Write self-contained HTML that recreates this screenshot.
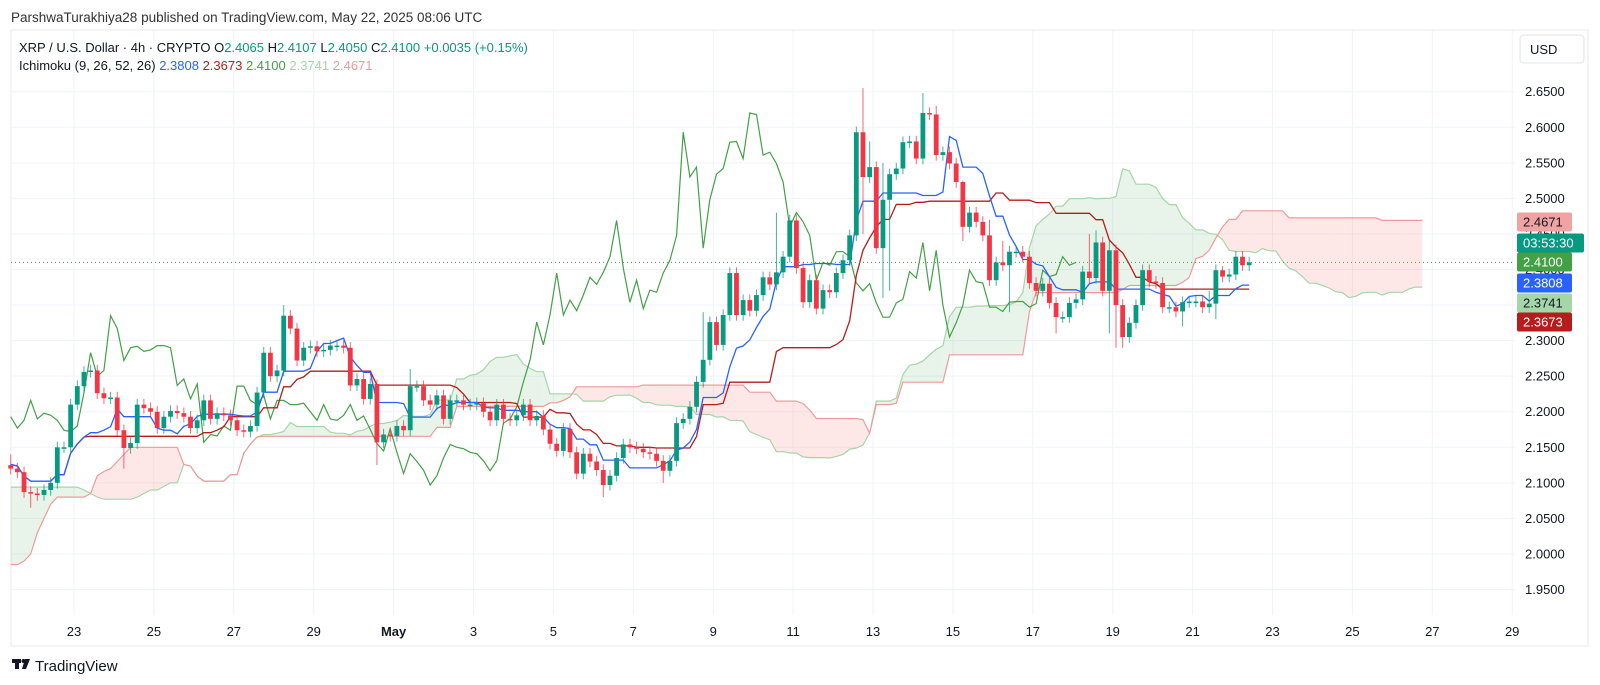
<!DOCTYPE html>
<html><head><meta charset="utf-8"><style>
html,body{margin:0;padding:0;background:#fff;width:1600px;height:685px;overflow:hidden;font-family:"Liberation Sans",sans-serif;}
svg text{font-family:"Liberation Sans",sans-serif;}
</style></head><body>
<svg id="chart" width="1600" height="685" xmlns="http://www.w3.org/2000/svg">
<text x="11" y="22" font-size="13.5" fill="#333">ParshwaTurakhiya28 published on TradingView.com, May 22, 2025 08:06 UTC</text>
<rect x="11" y="30" width="1577" height="616" fill="none" stroke="#e8e8e8"/>
<g id="grid"></g>
<g id="cloud"></g>
<g id="lines"></g>
<g id="candles"></g>
<g id="axis"></g>
<text x="19" y="52" font-size="13" fill="#131722">XRP / U.S. Dollar · 4h · CRYPTO <tspan fill="#131722">O</tspan><tspan fill="#089981">2.4065</tspan>  <tspan fill="#131722">H</tspan><tspan fill="#089981">2.4107</tspan>  <tspan fill="#131722">L</tspan><tspan fill="#089981">2.4050</tspan>  <tspan fill="#131722">C</tspan><tspan fill="#089981">2.4100</tspan>  <tspan fill="#089981">+0.0035 (+0.15%)</tspan></text>
<text x="19" y="70" font-size="13" fill="#131722">Ichimoku (9, 26, 52, 26)  <tspan fill="#2962FF">2.3808</tspan>  <tspan fill="#B71C1C">2.3673</tspan>  <tspan fill="#43A047">2.4100</tspan>  <tspan fill="#A5D6A7">2.3741</tspan>  <tspan fill="#EF9A9A">2.4671</tspan></text>
<rect x="1520" y="35" width="64" height="28" rx="4" fill="#fff" stroke="#e0e3eb"/>
<text x="1530" y="54" font-size="13" fill="#131722">USD</text>
<g>
<rect x="12" y="659" width="9" height="4" fill="#131722"/><rect x="15" y="659" width="4" height="10" fill="#131722"/>
<circle cx="23.5" cy="661" r="2" fill="#131722"/><polygon points="25,659 30,659 26,669 22,669" fill="#131722"/>
</g>
<text x="35" y="671" font-size="15" fill="#131722">TradingView</text>
</svg>
<script>
const closes=[2.12,
2.115,2.087,2.085,2.083,2.09,2.10,2.15,2.15,2.21,2.236,2.256,2.258,2.226,2.219,2.22,2.174,2.149,2.156,2.21,2.205,2.20,2.177,2.193,2.201,2.198,2.193,2.177,2.188,2.216,2.19,2.198,2.195,2.188,2.174,2.172,2.18,2.227,2.283,2.25,2.258,2.335,2.317,2.272,2.29,2.292,2.285,
2.287,2.293,2.293,2.29,2.237,2.246,2.218,2.239,2.157,2.168,2.166,2.18,2.174,2.236,2.236,2.216,2.21,2.223,2.19,2.216,2.216,2.21,2.21,2.212,2.20,2.188,2.21,2.19,2.188,2.195,2.21,2.188,2.194,2.175,2.155,2.145,2.176,2.143,2.113,2.141,2.13,2.118,2.097,2.11,2.135,2.154,
2.15,2.148,2.143,2.141,2.131,2.117,2.131,2.184,2.19,2.207,2.242,2.273,2.326,2.294,2.336,2.395,2.336,2.357,2.342,2.364,2.389,2.379,2.396,2.418,2.469,2.402,2.354,2.385,2.345,2.371,2.368,2.395,2.413,2.448,2.593,2.53,2.544,2.43,2.498,2.534,2.542,2.579,2.58,2.556,2.62,2.618,2.561,2.565,
2.549,2.523,2.46,2.48,2.467,2.448,2.385,2.41,2.406,2.425,2.425,2.418,2.381,2.37,2.38,2.353,2.333,2.333,2.353,2.358,2.397,2.388,2.438,2.37,2.427,2.35,2.305,2.325,2.35,2.399,2.383,2.381,2.347,2.347,2.341,2.354,2.355,2.355,2.347,2.352,2.399,2.39,2.393,2.418,2.406,
2.41];
const firstOpen=2.125;
const defaultWick=0.008;
const wickHighs={0:2.14,41:2.35,55:2.245,60:2.26,104:2.34,115:2.48,128:2.655,129:2.58,131:2.55,137:2.648,139:2.63,143:2.525,147:2.47,149:2.44,162:2.45,163:2.455,165:2.44,180:2.37,182:2.405};
const wickLows={3:2.065,17:2.12,55:2.125,89:2.08,98:2.10,128:2.45,131:2.36,132:2.37,143:2.44,150:2.34,157:2.31,165:2.31,166:2.29,167:2.29,176:2.32,181:2.33};
// cloud values projected from history before the first visible candle (plotted at candles 0..25)
const preSpanA=[2.094,2.094,2.094,2.094,2.094,2.094,2.094,2.094,2.094,2.094,2.094,2.09,2.085,2.08,2.077,2.077,2.077,2.077,2.077,2.08,2.085,2.09,2.09,2.095,2.10,2.10];
const preSpanB=[1.985,1.985,1.99,2.00,2.03,2.05,2.07,2.08,2.08,2.08,2.08,2.08,2.085,2.11,2.116,2.12,2.13,2.14,2.15,2.15,2.15,2.15,2.15,2.15,2.15,2.15];
const priceTicks=[2.65,2.60,2.55,2.50,2.45,2.40,2.35,2.30,2.25,2.20,2.15,2.10,2.05,2.00,1.95];
const dateTicks=[["23",0],["25",2],["27",4],["29",6],["May",8],["3",10],["5",12],["7",14],["9",16],["11",18],["13",20],["15",22],["17",24],["19",26],["21",28],["23",30],["25",32],["27",34],["29",36]];
const tagLabels=["2.4671","03:53:30","2.4100","2.3808","2.3741","2.3673"];
const tagY=[222,243,262,283,303,322];
const tagBg=["#F0A3A3","#089981","#43A047","#2962FF","#A5D6A7","#B71C1C"];
const tagFg=["#131722","#fff","#fff","#fff","#131722","#fff"];

const NS="http://www.w3.org/2000/svg";
const PX_DAY=39.95, X_APR23=74, START_DAYS=-(1+2/3);
const PLOT_L=11, PLOT_R=1515;
function xi(i){return X_APR23+(START_DAYS+i/6)*PX_DAY+3.3;}
function xd(d){return X_APR23+d*PX_DAY;}
function yp(p){return 91.7+(2.65-p)/0.05*35.56;}
function mk(tag,attrs,parent){const e=document.createElementNS(NS,tag);for(const k in attrs)e.setAttribute(k,attrs[k]);parent.appendChild(e);return e;}

const n=closes.length;
const opens=closes.map((c,i)=>i===0?firstOpen:closes[i-1]);
const highs=closes.map((c,i)=>wickHighs[i]!==undefined?Math.max(wickHighs[i],c,opens[i]):Math.max(c,opens[i])+defaultWick);
const lows=closes.map((c,i)=>wickLows[i]!==undefined?Math.min(wickLows[i],c,opens[i]):Math.min(c,opens[i])-defaultWick);
function mid(i,len){let h=-1e9,l=1e9;for(let k=Math.max(0,i-len+1);k<=i;k++){h=Math.max(h,highs[k]);l=Math.min(l,lows[k]);}return (h+l)/2;}
const tenkan=[],kijun=[],spanA=[],spanB=[];
for(let i=0;i<n;i++){tenkan.push(mid(i,9));kijun.push(mid(i,26));spanA.push((mid(i,9)+mid(i,26))/2);spanB.push(mid(i,52));}
// plotted cloud arrays (index = plot position)
const plotA=preSpanA.concat(spanA), plotB=preSpanB.concat(spanB);

const grid=document.getElementById('grid');
priceTicks.forEach(p=>{const l=mk('line',{x1:PLOT_L,x2:PLOT_R,y1:yp(p),y2:yp(p),stroke:'#f0f3fa'},grid);

});
dateTicks.forEach(t=>{const l=mk('line',{x1:xd(t[1]),x2:xd(t[1]),y1:30,y2:615,stroke:'#f0f3fa'},grid);

});

const cloud=document.getElementById('cloud');
for(let j=0;j<plotA.length-1;j++){
  const x1=xi(j),x2=xi(j+1);
  const a1=plotA[j],a2=plotA[j+1],b1=plotB[j],b2=plotB[j+1];
  const green=(a1+a2)>=(b1+b2);
  const poly=mk('polygon',{points:`${x1},${yp(a1)} ${x2},${yp(a2)} ${x2},${yp(b2)} ${x1},${yp(b1)}`,fill:green?'rgba(67,160,71,0.12)':'rgba(244,67,54,0.12)'},cloud);
  
  
}
function pathFrom(arr,shift){let d='';for(let i=0;i<arr.length;i++){const x=xi(i+shift);if(x<PLOT_L-2)continue;d+=(d?'L':'M')+x.toFixed(1)+','+yp(arr[i]).toFixed(1);}return d;}
const lines=document.getElementById('lines');
const sA=mk('path',{d:pathFrom(plotA,0),fill:'none',stroke:'#A5D6A7','stroke-width':1.2},cloud);


const sB=mk('path',{d:pathFrom(plotB,0),fill:'none',stroke:'#EF9A9A','stroke-width':1.2},cloud);


const lag=mk('path',{d:pathFrom(closes,-26),fill:'none',stroke:'#43A047','stroke-width':1.2},lines);


const kj=mk('path',{d:pathFrom(kijun,0),fill:'none',stroke:'#B71C1C','stroke-width':1.3},lines);


const tk=mk('path',{d:pathFrom(tenkan,0),fill:'none',stroke:'#2962FF','stroke-width':1.3},lines);


const last=mk('line',{x1:PLOT_L,x2:PLOT_R,y1:yp(closes[n-1]),y2:yp(closes[n-1]),stroke:'#43A047','stroke-dasharray':'1,3','stroke-width':1},lines);



const cg=document.getElementById('candles');
for(let i=0;i<n;i++){
  const up=closes[i]>=opens[i];const col=up?'#089981':'#F23645';const x=xi(i);
  const g=mk('g',{},cg);
  
  
  mk('line',{x1:x,x2:x,y1:yp(highs[i]),y2:yp(lows[i]),stroke:col,'stroke-width':1,opacity:0.75},g);
  const top=yp(Math.max(opens[i],closes[i])),bot=yp(Math.min(opens[i],closes[i]));
  mk('rect',{x:x-2.4,y:top,width:4.8,height:Math.max(1.5,bot-top),fill:col},g);
}

const ax=document.getElementById('axis');
priceTicks.forEach(p=>{const t=mk('text',{x:1525,y:yp(p)+4.5,'font-size':13,fill:'#131722'},ax);t.textContent=p.toFixed(4);

});
dateTicks.forEach(t=>{const e=mk('text',{x:xd(t[1]),y:636,'font-size':13,fill:'#131722','text-anchor':'middle','font-weight':t[0]==='May'?'bold':'normal'},ax);e.textContent=t[0];

});
tagLabels.forEach((lab,k)=>{const y=tagY[k];const w=lab.length>6?67:55;
const r=mk('rect',{x:1517,y:y-9.5,width:w,height:19,rx:2,fill:tagBg[k]},ax);


const tx=mk('text',{x:1523,y:y+4.5,'font-size':13,fill:tagFg[k]},ax);tx.textContent=lab;

});
</script>
</body></html>
